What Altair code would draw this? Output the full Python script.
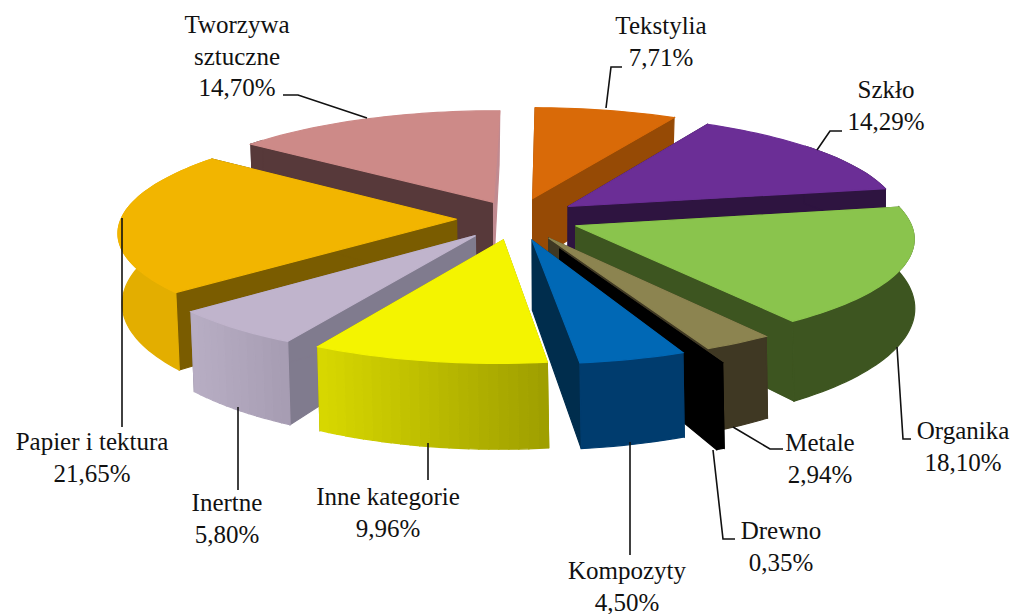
import numpy as np
import altair as alt

# ---- chart values
names = ["Tekstylia","Szkło","Organika","Metale","Drewno","Kompozyty","Inne kategorie","Inertne","Papier i tektura","Tworzywa sztuczne"]
shares = [7.71,14.29,18.10,2.94,0.35,4.50,9.96,5.80,21.65,14.70]
label_lines = [["Tekstylia","7,71%"],["Szkło","14,29%"],["Organika","18,10%"],["Metale","2,94%"],["Drewno","0,35%"],
               ["Kompozyty","4,50%"],["Inne kategorie","9,96%"],["Inertne","5,80%"],["Papier i tektura","21,65%"],["Tworzywa","sztuczne","14,70%"]]

# ---- layout: camera of the 3D pie and explosion of each slice (disk units)
top_cam = [338.00408,-61.52205,517.89762,1.19645,81.77707,227.54077,0.00106,-0.11031]
bot_cam = [334.09355,-61.6327,518.09789,-1.07325,86.99311,295.98937,-0.0034,-0.11241]
explode = [[0.0417,-0.2803],[0.1496,-0.2026],[0.1712,-0.0183],[0.0914,0.097],[0.1237,0.2004],
           [0.0434,0.119],[-0.0412,0.1149],[-0.1239,0.0767],[-0.1844,-0.0768],[-0.0772,-0.2412]]
draw_order = [9,0,1,8,2,7,3,4,5,6]
label_pos = [(661,26),(886,90),(963,431),(820,443),(781,531),(627,571),(388,497),(227,503),(92,442),(237,25)]
line_gap = 31.5
leaders = [[(622,67),(611,67),(606,108)],[(842,131),(830,131),(817,150)],[(911,439),(903,439),(897,347)],
           [(783,449),(770,449),(733,427)],[(735,539),(723,539),(713,450)],[(630,442),(630,555)],
           [(428,443),(428,480)],[(238,407),(238,490)],[(122,218),(122,427)],[(283,95),(298,95),(367,118)]]

# ---- colours
top_col=["#d96a08","#6b2e96","#8ac44d","#8c8450","#000000","#0068b5","#f4f400","#c0b4cc","#f2b500","#cd8a88"]
cutA=["#964a05","#2e1440","#3d5520","#3f3823","#000000","#002d4d","#9e9e00","#807b8e","#7a5c00","#57393a"]
cutB=["#964a05","#2e1440","#3d5520","#3f3823","#000000","#002d4d","#9e9e00","#807b8e","#7a5c00","#c08a90"]
outL=["#964a05","#2e1440","#3d5520","#3f3823","#000000","#003c6e","#d8d800","#b8aec4","#e3ae00","#57393a"]
outR=["#964a05","#2e1440","#3d5520","#3f3823","#000000","#003c6e","#9e9e00","#a69cb2","#e3ae00","#57393a"]

edges = np.concatenate([[0],np.cumsum(shares)])/sum(shares)*2*np.pi
O = 8
def proj(h,X,Y):
    d=h[6]*X+h[7]*Y+1
    return (h[0]*X+h[1]*Y+h[2])/d,(h[3]*X+h[4]*Y+h[5])/d
def mix(c1,c2,t):
    a=[int(c1[i:i+2],16) for i in (1,3,5)];b=[int(c2[i:i+2],16) for i in (1,3,5)]
    return "#%02x%02x%02x"%tuple(int(round(u+(v-u)*t)) for u,v in zip(a,b))
def poly(pts,col):
    ring=[[float(x-O),float(y-O)] for x,y in pts]; ring.append(ring[0])
    return {"type":"Feature","geometry":{"type":"Polygon","coordinates":[ring]},"properties":{"color":col}}

feat=[]
for i in draw_order:
    ox,oy=explode[i]; a,b=edges[i],edges[i+1]
    th=np.linspace(a,b,max(3,int((b-a)*40)))
    X,Y=ox+np.sin(th),oy-np.cos(th)
    tx,ty=proj(top_cam,X,Y); bx,by=proj(bot_cam,X,Y)
    t0=proj(top_cam,ox,oy); b0=proj(bot_cam,ox,oy)
    feat.append(poly([t0,(tx[0],ty[0]),(bx[0],by[0]),b0],cutA[i]))
    feat.append(poly([t0,(tx[-1],ty[-1]),(bx[-1],by[-1]),b0],cutB[i]))
    keep=np.where(np.cos(th)<0.65)[0]          # the far side of the rim is out of sight
    if len(keep)>1:
        kx,ky,lx,ly=tx[keep],ty[keep],bx[keep],by[keep]
        if outL[i]==outR[i]:
            feat.append(poly(list(zip(kx,ky))+list(zip(lx,ly))[::-1],outL[i]))
        else:
            lo,hi=min(kx),max(kx)
            for j in range(len(keep)-1):
                col=mix(outL[i],outR[i],(0.5*(kx[j]+kx[j+1])-lo)/max(hi-lo,1))
                feat.append(poly([(kx[j],ky[j]),(kx[j+1],ky[j+1]),(lx[j+1],ly[j+1]),(lx[j],ly[j])],col))
    feat.append(poly([t0]+list(zip(tx,ty)),top_col[i]))

lf=[{"type":"Feature","geometry":{"type":"LineString","coordinates":[[x-O,y-O] for x,y in l]},"properties":{}} for l in leaders]
T=[]
for lines,(x,y) in zip(label_lines,label_pos):
    for k,txt in enumerate(lines):
        T.append({"t":txt,"lon":x-O,"lat":y-O+k*line_gap})

pr=dict(type="identity",scale=1,translate=[0,0])
s=alt.Chart(alt.Data(values=feat)).mark_geoshape(strokeWidth=1.2).encode(color=alt.Color("properties.color:N",scale=None),stroke=alt.Stroke("properties.color:N",scale=None)).project(**pr)
l=alt.Chart(alt.Data(values=lf)).mark_geoshape(filled=False,stroke="#111111",strokeWidth=1.6).project(**pr)
t=alt.Chart(alt.Data(values=T)).mark_text(font="Liberation Serif",fontSize=25,color="#111111",baseline="middle").encode(longitude="lon:Q",latitude="lat:Q",text="t:N").project(**pr)
chart=alt.layer(s,l,t).properties(width=1003,height=606,padding=0,background="white").configure_view(stroke=None)
chart.save("out.html",embed_options={"renderer":"svg","actions":False})
